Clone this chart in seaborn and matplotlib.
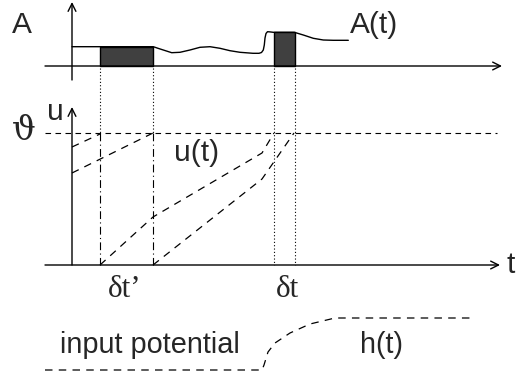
import matplotlib
matplotlib.use("Agg")
import matplotlib.pyplot as plt
import seaborn as sns

sns.set_theme(style="white")
plt.rcParams['font.family'] = ['Liberation Sans', 'DejaVu Sans']

# --- data (diagram coordinates, pixel-like units) ---
# A(t) signal
a_x = [72, 100, 153.3, 158, 163.3, 171.7, 180, 190, 200, 210, 220, 230, 240, 253, 259, 261.5,
       263.3, 264.3, 265, 266, 267.5, 270, 273.3, 294.3, 303.3, 313.3, 323.3, 333.3, 348.3]
a_y = [46.7, 46.7, 46.7, 48.3, 50, 52.7, 52.3, 50, 47.3, 46.7, 48.3, 50.7, 52.3, 53.3, 53.3, 52.5,
       50, 45, 38, 33.5, 31.7, 31.9, 32.3, 32.3, 35, 38.3, 40, 40.3, 40.3]
# shaded pulses: left, right, top
pulse_left = [100, 274]
pulse_right = [153, 295]
pulse_top = [46.7, 32.3]
# u(t) trajectories
u1_x, u1_y = [72, 100], [147, 134]
u2_x, u2_y = [72, 153], [173, 133]
u3_x, u3_y = [100, 153, 262, 274], [265, 217, 153, 133]
u4_x, u4_y = [153, 262, 294], [265, 179, 133]
# h(t) input potential
h_x = [45, 262, 264, 268, 275, 290, 310, 335, 472]
h_y = [370, 370, 365, 352, 343, 333, 324, 318, 318]
threshold_y = 133
marks_x = [100, 153, 274, 295]

fig = plt.figure(figsize=(5.17, 3.79), dpi=100)
ax = fig.add_axes([0, 0, 1, 1])
ax.set_xlim(0, 517)
ax.set_ylim(379, 0)
ax.axis("off")

k = "black"
# axes with arrows
arrow = dict(arrowstyle="->", color=k, lw=1.0, shrinkA=0, shrinkB=0, mutation_scale=14)
ax.annotate("", xy=(502, 66), xytext=(45, 66), arrowprops=arrow)
ax.annotate("", xy=(72, 2), xytext=(72, 80), arrowprops=arrow)
ax.annotate("", xy=(500, 265), xytext=(45, 265), arrowprops=arrow)
ax.annotate("", xy=(72, 107), xytext=(72, 265), arrowprops=arrow)

# shaded pulses
for l, r, t in zip(pulse_left, pulse_right, pulse_top):
    ax.fill_between([l, r], [t, t], [66, 66], color="#404040", lw=1, edgecolor=k)

# A(t) curve
sns.lineplot(x=a_x, y=a_y, sort=False, color=k, lw=1.0, ax=ax, estimator=None)

# vertical marker lines
for i, xm in enumerate(marks_x):
    if i < 2:
        ax.plot([xm, xm], [68, threshold_y], color=k, lw=0.8, ls=(0, (1, 2)))
        ax.plot([xm, xm], [threshold_y, 265], color=k, lw=0.8, ls=(0, (7, 3, 1, 3)))
    else:
        ax.plot([xm, xm], [68, 265], color=k, lw=0.8, ls=(0, (1, 2)))

# threshold
ax.plot([45, 497], [threshold_y, threshold_y], color=k, lw=0.8, ls=(0, (5, 4)))

# u trajectories
for xs, ys in [(u1_x, u1_y), (u2_x, u2_y), (u3_x, u3_y), (u4_x, u4_y)]:
    sns.lineplot(x=xs, y=ys, sort=False, color=k, lw=0.9, ax=ax, estimator=None,
                 linestyle=(0, (6, 5)))

# h(t)
sns.lineplot(x=h_x, y=h_y, sort=False, color=k, lw=0.9, ax=ax, estimator=None,
             linestyle=(0, (6, 5)))

# labels
fs = 21.5
serif = ["Liberation Serif", "DejaVu Serif"]
ax.text(22, 33, "A", fontsize=fs, ha="center", va="baseline")
ax.text(374, 33, "A(t)", fontsize=fs, ha="center", va="baseline")
ax.text(55, 120, "u", fontsize=fs, ha="center", va="baseline")
ax.text(24, 140, "ϑ", fontsize=24, ha="center", va="baseline", family=["DejaVu Serif"])
ax.text(197, 161, "u(t)", fontsize=fs, ha="center", va="baseline")
ax.text(511, 273, "t", fontsize=fs, ha="center", va="baseline")
ax.text(125, 297, "δt’", fontsize=22.5, ha="center", va="baseline", family=serif)
ax.text(287.5, 297, "δt", fontsize=22.5, ha="center", va="baseline", family=serif)
ax.text(150, 353, "input potential", fontsize=20.8, ha="center", va="baseline")
ax.text(382, 353, "h(t)", fontsize=20.8, ha="center", va="baseline")

fig.savefig("out.png", dpi=100)
